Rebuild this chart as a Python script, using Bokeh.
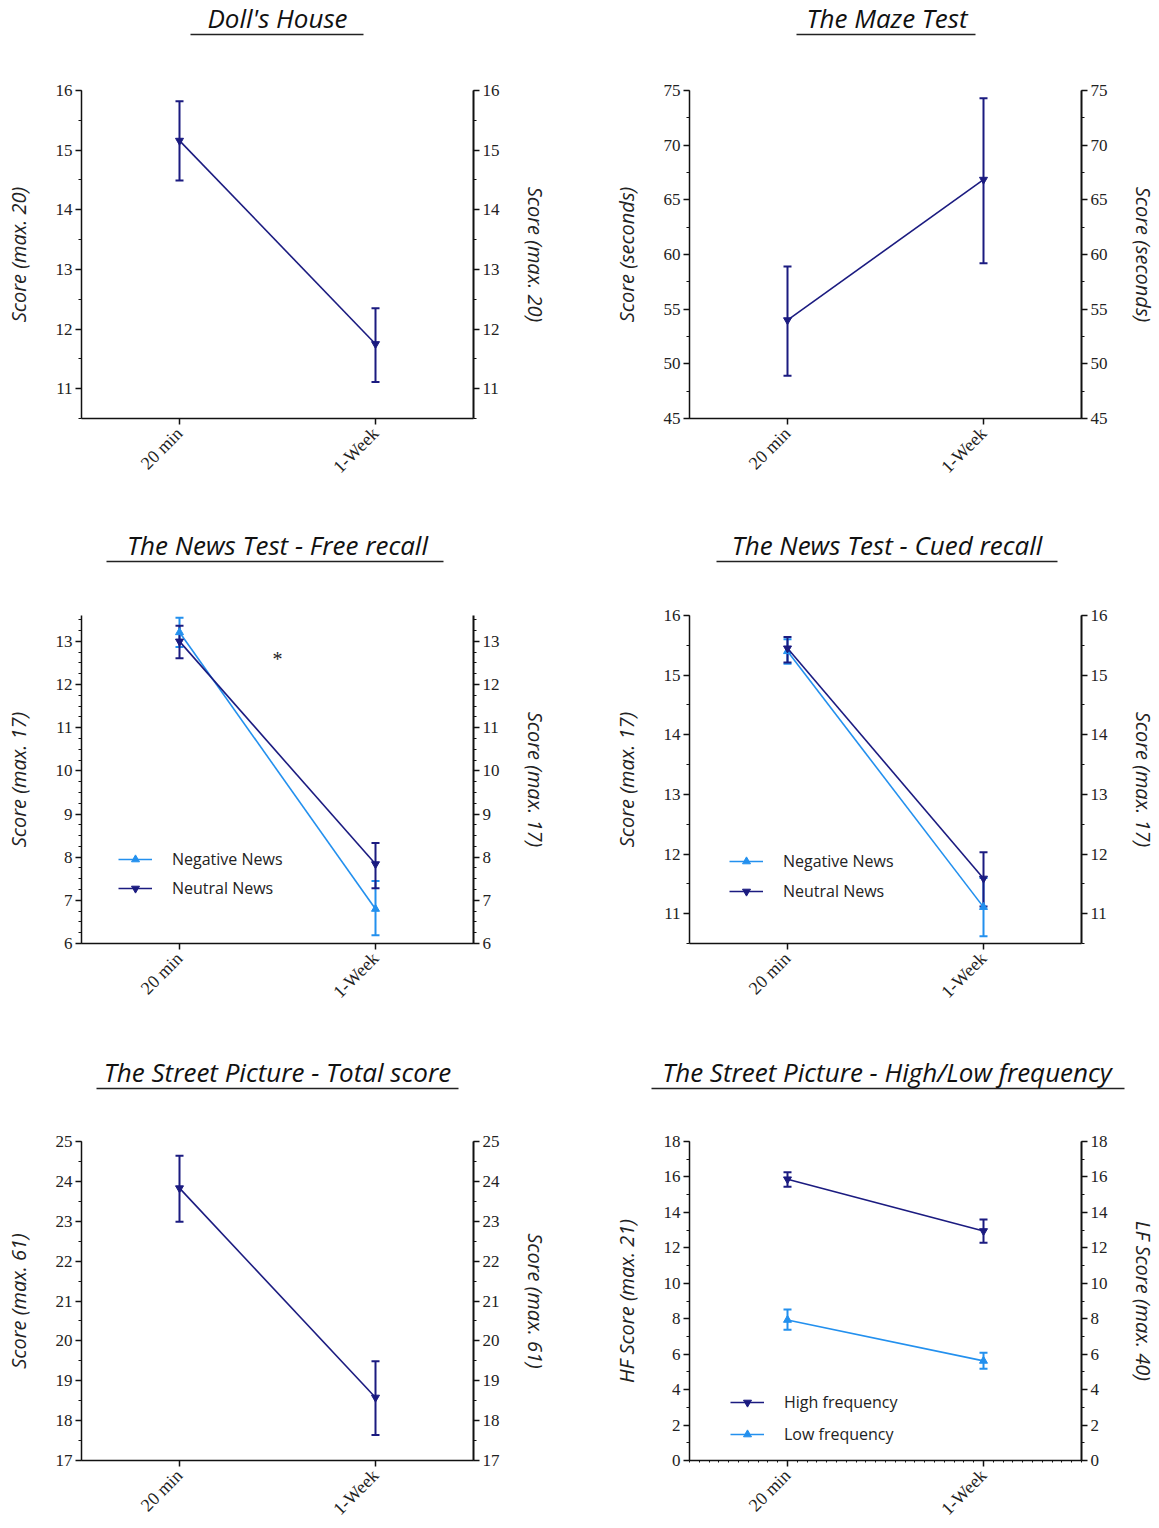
import numpy as np
from bokeh.plotting import figure
from bokeh.models import (Range1d, LinearAxis, FixedTicker, SingleIntervalTicker,
                          ColumnDataSource, Whisker, TeeHead, Legend, LegendItem)
from bokeh.layouts import column, row
from bokeh.embed import file_html
from bokeh.resources import INLINE
from bokeh.core.properties import value

# ---------------- data ----------------
times = ["20 min", "1-Week"]

dolls_mean = [15.16, 11.75]
dolls_lower = [14.49, 11.11]
dolls_upper = [15.82, 12.35]

maze_mean = [54.0, 66.85]
maze_lower = [48.9, 59.2]
maze_upper = [58.9, 74.3]

free_neg_mean = [13.21, 6.80]
free_neg_lower = [12.87, 6.19]
free_neg_upper = [13.55, 7.45]
free_neu_mean = [13.0, 7.84]
free_neu_lower = [12.61, 7.28]
free_neu_upper = [13.36, 8.33]
free_sig_text = "*"
free_sig_value = 12.6

cued_neg_mean = [15.40, 11.11]
cued_neg_lower = [15.19, 10.62]
cued_neg_upper = [15.60, 11.60]
cued_neu_mean = [15.45, 11.59]
cued_neu_lower = [15.21, 11.12]
cued_neu_upper = [15.64, 12.03]

street_mean = [23.83, 18.58]
street_lower = [22.99, 17.64]
street_upper = [24.64, 19.49]

hf_mean = [15.87, 12.95]
hf_lower = [15.45, 12.28]
hf_upper = [16.26, 13.60]
lf_mean = [7.93, 5.62]
lf_lower = [7.38, 5.18]
lf_upper = [8.52, 6.08]

titles = ["Doll's House", "The Maze Test",
          "The News Test - Free recall", "The News Test - Cued recall",
          "The Street Picture - Total score", "The Street Picture - High/Low frequency"]

# ---------------- style / layout ----------------
NAVY = "#1b1b80"
LIGHT = "#2390ee"
TICK_FONT = "Liberation Serif"
SANS = "Open Sans"

PAGE_W = 1159
COL_W = [608, 551]
FRAME_W = [392, 395]
COL_X0 = [0, 608]
BORDER_L = 81
FRAME_H = 328


def style_axis(ax, ticker, label, standoff):
    ax.ticker = ticker
    ax.axis_label = label
    ax.axis_line_width = 1.5
    ax.axis_line_color = "#111111"
    ax.major_tick_in = 0
    ax.major_tick_out = 6
    ax.minor_tick_in = 0
    ax.minor_tick_out = 3
    ax.major_tick_line_width = 1.5
    ax.minor_tick_line_width = 1.2
    ax.major_tick_line_color = "#111111"
    ax.minor_tick_line_color = "#111111"
    ax.major_label_text_font = TICK_FONT
    ax.major_label_text_font_size = "17px"
    ax.major_label_text_color = "#222222"
    ax.major_label_standoff = 3
    ax.axis_label_text_font = SANS
    ax.axis_label_text_font_style = "italic"
    ax.axis_label_text_font_size = "20px"
    ax.axis_label_text_color = "#222222"
    ax.axis_label_standoff = standoff


def make_title_band(height, text_top, ul_top, entries):
    """A full-width strip holding the two panel titles of one row (pixel coords)."""
    t = figure(width=PAGE_W, height=height, x_range=Range1d(0, PAGE_W),
               y_range=Range1d(0, height), output_backend="svg", toolbar_location=None,
               min_border_left=0, min_border_right=0, min_border_top=0, min_border_bottom=0,
               x_axis_location=None, y_axis_location=None)
    t.grid.visible = False
    t.outline_line_color = None
    for col, text, (u0, u1) in entries:
        cx = COL_X0[col] + BORDER_L + FRAME_W[col] / 2
        t.text(x=[cx], y=[height - text_top], text=[text], text_font=value(SANS),
               text_font_style="italic", text_font_size="26px", text_color="#111111",
               text_align="center", text_baseline="middle")
        t.segment(x0=[u0], y0=[height - ul_top], x1=[u1], y1=[height - ul_top],
                  line_color="#222222", line_width=1.5)
    return t


def make_chart(col, height, yr, interval, nminor, ylab_l, ylab_r, series,
               legend_loc=None, legend_spacing=8, extra=None, x_minor=None):
    w = COL_W[col]
    top = 34
    bottom = height - top - FRAME_H
    nx = len(times)
    p = figure(width=w, height=height, x_range=Range1d(0, nx),
               y_range=Range1d(*yr), output_backend="svg", toolbar_location=None,
               min_border_left=BORDER_L, min_border_right=w - BORDER_L - FRAME_W[col],
               min_border_top=top, min_border_bottom=bottom)
    p.outline_line_color = None
    p.grid.visible = False

    xs = [i + 0.5 for i in range(nx)]

    style_axis(p.yaxis[0], SingleIntervalTicker(interval=interval, num_minor_ticks=nminor),
               ylab_l, 21)
    right = LinearAxis()
    style_axis(right, SingleIntervalTicker(interval=interval, num_minor_ticks=nminor),
               ylab_r, 19)
    right.axis_line_width = 2
    p.add_layout(right, "right")

    xa = p.xaxis[0]
    if x_minor:
        minor = [i * x_minor for i in range(int(round(nx / x_minor)) + 1)]
        style_axis(xa, FixedTicker(ticks=xs, minor_ticks=minor), None, 0)
        xa.minor_tick_out = 2
        xa.minor_tick_line_width = 1
    else:
        style_axis(xa, FixedTicker(ticks=xs), None, 0)
        xa.minor_tick_out = 0
    xa.major_label_overrides = {x: t for x, t in zip(xs, times)}
    xa.major_label_orientation = np.pi / 4
    xa.major_label_text_font_size = "18px"
    xa.major_label_standoff = 6

    items = []
    for name, mean, lo, hi, color, marker in series:
        src = ColumnDataSource(dict(x=xs, y=mean, lo=lo, hi=hi))
        ln = p.line("x", "y", source=src, line_color=color, line_width=1.6)
        p.add_layout(Whisker(source=src, base="x", lower="lo", upper="hi",
                             line_color=color, line_width=2,
                             lower_head=TeeHead(size=8, line_color=color, line_width=2),
                             upper_head=TeeHead(size=8, line_color=color, line_width=2)))
        sc = p.scatter("x", "y", source=src, marker=marker, size=8,
                       fill_color=color, line_color=color)
        if name:
            items.append(LegendItem(label=name, renderers=[ln, sc]))

    if extra is not None:
        txt, val = extra
        p.text(x=[float(np.mean(xs))], y=[val], text=[txt], text_font=value(TICK_FONT),
               text_font_size="20px", text_align="center", text_baseline="middle",
               text_color="#222222")

    if items:
        lg = Legend(items=items, location=legend_loc, border_line_color=None,
                    background_fill_alpha=0, label_text_font=SANS,
                    label_text_font_size="16px", label_text_color="#222222",
                    glyph_width=34, glyph_height=20, label_height=20,
                    label_standoff=20, spacing=legend_spacing, padding=0, margin=0)
        p.add_layout(lg)
    return p


band1 = make_title_band(56, 17, 34, [(0, titles[0], (190, 363)), (1, titles[1], (796, 975))])
band2 = make_title_band(58, 21, 38, [(0, titles[2], (106, 443)), (1, titles[3], (716, 1057))])
band3 = make_title_band(58, 22, 39, [(0, titles[4], (96, 458)), (1, titles[5], (651, 1124))])

c1 = make_chart(0, 467, (10.5, 16), 1, 2, "Score (max. 20)", "Score (max. 20)",
                [(None, dolls_mean, dolls_lower, dolls_upper, NAVY, "inverted_triangle")])
c2 = make_chart(1, 467, (45, 75), 5, 2, "Score (seconds)", "Score (seconds)",
                [(None, maze_mean, maze_lower, maze_upper, NAVY, "inverted_triangle")])
c3 = make_chart(0, 468, (6, 13.6), 1, 4, "Score (max. 17)", "Score (max. 17)",
                [("Negative News", free_neg_mean, free_neg_lower, free_neg_upper, LIGHT, "triangle"),
                 ("Neutral News", free_neu_mean, free_neu_lower, free_neu_upper, NAVY, "inverted_triangle")],
                legend_loc=(37, 44), legend_spacing=7, extra=(free_sig_text, free_sig_value))
c4 = make_chart(1, 468, (10.5, 16), 1, 2, "Score (max. 17)", "Score (max. 17)",
                [("Negative News", cued_neg_mean, cued_neg_lower, cued_neg_upper, LIGHT, "triangle"),
                 ("Neutral News", cued_neu_mean, cued_neu_lower, cued_neu_upper, NAVY, "inverted_triangle")],
                legend_loc=(40, 41), legend_spacing=8)
c5 = make_chart(0, 421, (17, 25), 1, 2, "Score (max. 61)", "Score (max. 61)",
                [(None, street_mean, street_lower, street_upper, NAVY, "inverted_triangle")])
c6 = make_chart(1, 421, (0, 18), 2, 2, "HF Score (max. 21)", "LF Score (max. 40)",
                [("High frequency", hf_mean, hf_lower, hf_upper, NAVY, "inverted_triangle"),
                 ("Low frequency", lf_mean, lf_lower, lf_upper, LIGHT, "triangle")],
                legend_loc=(41, 15), legend_spacing=10, x_minor=0.05)

layout = column(band1, row(c1, c2), band2, row(c3, c4), band3, row(c5, c6))

open("out.html", "w").write(file_html(layout, INLINE))
